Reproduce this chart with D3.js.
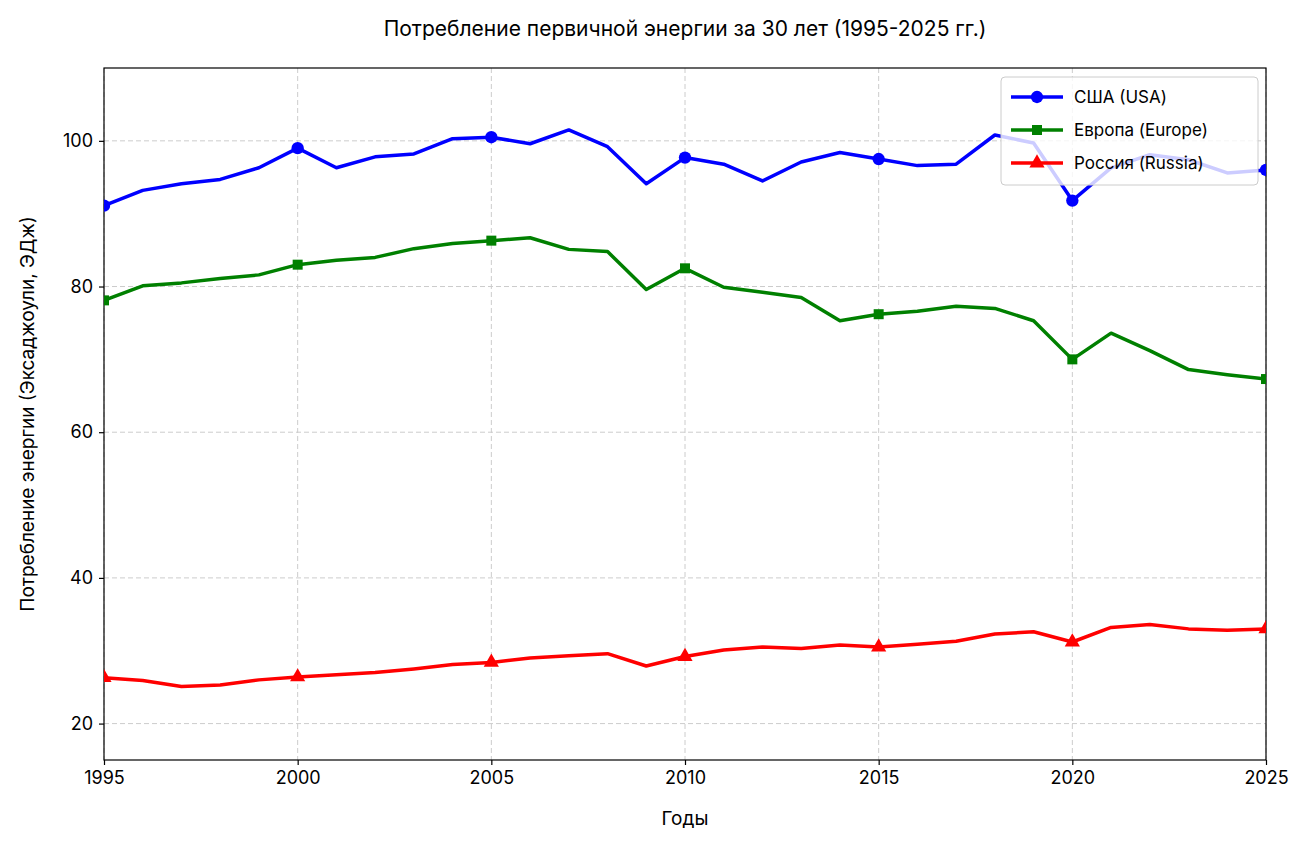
<!DOCTYPE html>
<html lang="ru">
<head>
<meta charset="UTF-8">
<title>Потребление первичной энергии</title>
<script src="https://d3js.org/d3.v7.min.js"></script>
<style>
  body { margin: 0; background: #fff; font-family: Inter, "Open Sans", sans-serif; }
</style>
</head>
<body>
<svg id="chart" width="1309" height="845"></svg>
<script>
const years = d3.range(1995, 2026);
const usa = [91.1, 93.2, 94.1, 94.7, 96.3, 99.0, 96.3, 97.8, 98.2, 100.3, 100.5, 99.6, 101.5, 99.2, 94.1,
  97.7, 96.8, 94.5, 97.1, 98.4, 97.5, 96.6, 96.8, 100.8, 99.7, 91.8, 96.3, 98.1, 97.4, 95.6, 96.0];
const europe = [78.1, 80.1, 80.5, 81.1, 81.6, 83.0, 83.6, 84.0, 85.2, 85.9, 86.3, 86.7, 85.1, 84.8, 79.6,
  82.5, 79.9, 79.2, 78.5, 75.3, 76.2, 76.6, 77.3, 77.0, 75.3, 70.0, 73.6, 71.2, 68.6, 67.9, 67.3];
const russia = [26.3, 25.9, 25.1, 25.3, 26.0, 26.4, 26.7, 27.0, 27.5, 28.1, 28.4, 29.0, 29.3, 29.6, 27.9,
  29.2, 30.1, 30.5, 30.3, 30.8, 30.5, 30.9, 31.3, 32.3, 32.6, 31.2, 33.2, 33.6, 33.0, 32.8, 33.0];
const xTicks = [1995, 2000, 2005, 2010, 2015, 2020, 2025];
const yTicks = [20, 40, 60, 80, 100];

const series = [
  { name: "США (USA)", values: usa, color: "#0000ff", marker: "circle" },
  { name: "Европа (Europe)", values: europe, color: "#008000", marker: "square" },
  { name: "Россия (Russia)", values: russia, color: "#ff0000", marker: "triangle" }
];

const svg = d3.select("#chart");
const m = { left: 104, right: 1266, top: 68, bottom: 760 };
const x = d3.scaleLinear().domain([1995, 2025]).range([m.left, m.right]);
const y = d3.scaleLinear().domain([15, 110]).range([m.bottom, m.top]);

// grid
const grid = svg.append("g").attr("stroke", "#cccccc").attr("stroke-dasharray", "5,3").attr("stroke-width", 1);
xTicks.forEach(t => grid.append("line").attr("x1", x(t)).attr("x2", x(t)).attr("y1", m.top).attr("y2", m.bottom));
yTicks.forEach(t => grid.append("line").attr("x1", m.left).attr("x2", m.right).attr("y1", y(t)).attr("y2", y(t)));

// axes
const styleAxis = g => {
  g.attr("font-size", 18).attr("font-family", "Inter, 'Open Sans', sans-serif");
  g.select(".domain").remove();
  g.selectAll(".tick line").attr("stroke-width", 1.2);
};
svg.append("g").attr("transform", `translate(0,${m.bottom})`)
  .call(d3.axisBottom(x).tickValues(xTicks).tickFormat(d3.format("d")).tickSizeOuter(0).tickSize(5).tickPadding(6))
  .call(styleAxis);
svg.append("g").attr("transform", `translate(${m.left},0)`)
  .call(d3.axisLeft(y).tickValues(yTicks).tickSizeOuter(0).tickSize(5).tickPadding(6))
  .call(styleAxis);
svg.append("rect").attr("x", m.left).attr("y", m.top).attr("width", m.right - m.left).attr("height", m.bottom - m.top)
  .attr("fill", "none").attr("stroke", "#000").attr("stroke-width", 1.2);

svg.append("clipPath").attr("id", "clip").append("rect")
  .attr("x", m.left).attr("y", m.top).attr("width", m.right - m.left).attr("height", m.bottom - m.top);
const plot = svg.append("g").attr("clip-path", "url(#clip)");

const line = d3.line().x((d, i) => x(years[i])).y(d => y(d));
const sym = { circle: d3.symbolCircle, square: d3.symbolSquare, triangle: d3.symbolTriangle };

series.forEach(s => {
  plot.append("path").datum(s.values).attr("d", line).attr("fill", "none")
    .attr("stroke", s.color).attr("stroke-width", 3.5).attr("stroke-linejoin", "round");
  plot.selectAll(null).data(s.values.map((v, i) => [years[i], v]).filter(d => d[0] % 5 === 0))
    .join("path")
    .attr("d", d3.symbol().type(sym[s.marker]).size(s.marker === "circle" ? 120 : 100))
    .attr("transform", d => `translate(${x(d[0])},${y(d[1])})`)
    .attr("fill", s.color);
});

// legend
const lg = svg.append("g").attr("transform", "translate(1001,77)");
lg.append("rect").attr("width", 257).attr("height", 108).attr("rx", 4)
  .attr("fill", "rgba(255,255,255,0.8)").attr("stroke", "#cccccc");
series.forEach((s, i) => {
  const yy = 20 + i * 33;
  lg.append("line").attr("x1", 10).attr("x2", 62).attr("y1", yy).attr("y2", yy)
    .attr("stroke", s.color).attr("stroke-width", 3.5);
  lg.append("path").attr("d", d3.symbol().type(sym[s.marker]).size(s.marker === "circle" ? 120 : 100))
    .attr("transform", `translate(36,${yy})`).attr("fill", s.color);
  lg.append("text").attr("x", 73).attr("y", yy + 6).attr("font-size", 17).text(s.name);
});

// titles
svg.append("text").attr("x", 685).attr("y", 36).attr("text-anchor", "middle").attr("font-size", 21)
  .text("Потребление первичной энергии за 30 лет (1995-2025 гг.)");
svg.append("text").attr("x", 685).attr("y", 825).attr("text-anchor", "middle").attr("font-size", 19).text("Годы");
svg.append("text").attr("transform", `translate(34,${(m.top + m.bottom) / 2}) rotate(-90)`)
  .attr("text-anchor", "middle").attr("font-size", 19)
  .text("Потребление энергии (Эксаджоули, ЭДж)");
</script>
</body>
</html>
